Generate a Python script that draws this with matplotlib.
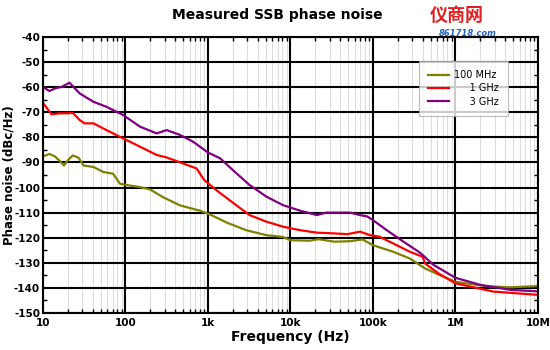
import numpy as np
import matplotlib.pyplot as plt
from matplotlib.ticker import FixedLocator, LogLocator, NullFormatter

plt.rcParams["axes.unicode_minus"] = False

# data
f_100m = [10, 12, 14, 16, 18, 20, 23, 27, 31, 41, 54, 71, 86, 113, 150, 200, 284, 458, 730, 800,
          1100, 1700, 2900, 5100, 8100, 10000, 17000, 22000, 34000, 53000, 75000, 100000, 176000,
          280000, 430000, 720000, 1e6, 2.3e6, 4.6e6, 1e7]
pn_100m = [-87.6, -86.6, -87.6, -89.4, -91.2, -89.2, -87.2, -88.1, -91.2, -91.8, -93.8, -94.5, -98.5,
           -99.2, -99.8, -100.8, -103.8, -107.1, -108.9, -109.2, -111, -114, -117, -119, -119.7, -121,
           -121.2, -120.6, -121.6, -121.4, -120.7, -123, -125.6, -128.3, -132.3, -135.6, -137.6,
           -139.3, -139.8, -139.3]

f_1g = [10, 12.7, 16, 20, 23, 28, 32, 41, 59, 98, 150, 239, 316, 500, 730, 900, 1260, 2000, 3200,
        5100, 8100, 13000, 21000, 34000, 49000, 70000, 92000, 120000, 176000, 280000, 400000,
        430000, 620000, 1e6, 2.9e6, 1e7]
pn_1g = [-66.2, -70.8, -70.4, -70.4, -70.2, -73.1, -74.4, -74.4, -77.1, -80.7, -83.7, -87, -88,
         -90.4, -92.4, -97, -101, -106, -111, -113.6, -115.6, -117, -118, -118.3, -118.6, -117.6,
         -119, -119.6, -122.3, -125.6, -127.6, -130.3, -134.2, -138.2, -141.5, -142.8]

f_3g = [10, 12, 14, 17, 21, 28, 41, 59, 94, 150, 239, 316, 458, 660, 1000, 1400, 2000, 3200, 5100,
        8100, 13000, 21000, 27000, 53000, 70000, 85000, 100000, 147000, 235000, 373000, 540000,
        1e6, 2e6, 4.6e6, 1e7]
pn_3g = [-59.9, -61.5, -60.5, -59.8, -58.2, -62.5, -65.8, -67.8, -71.1, -75.7, -78.4, -77.1, -79,
         -81.7, -86, -88.3, -93, -99, -103.6, -107, -109.2, -111, -110, -110, -111, -111.5, -113,
         -117, -121.6, -126, -130.8, -136, -138.8, -140.8, -141.4]

xticks = [10, 100, 1e3, 1e4, 1e5, 1e6, 1e7]
xlabels = ["10", "100", "1k", "10k", "100k", "1M", "10M"]

fig = plt.figure(figsize=(5.5, 3.5), dpi=100)
ax = fig.add_axes([0.078, 0.106, 0.9, 0.788])

ax.plot(f_100m, pn_100m, color="#808000", lw=1.6, label="100 MHz")
ax.plot(f_1g, pn_1g, color="#ff0000", lw=1.6, label="     1 GHz")
ax.plot(f_3g, pn_3g, color="#800080", lw=1.6, label="     3 GHz")

ax.set_xscale("log")
ax.set_xlim(10, 1e7)
ax.set_ylim(-150, -40)
ax.set_xticks(xticks)
ax.set_xticklabels(xlabels)
ax.xaxis.set_minor_locator(LogLocator(base=10, subs=np.arange(2, 10)))
ax.xaxis.set_minor_formatter(NullFormatter())
ax.set_yticks(np.arange(-150, -39, 10))
ax.yaxis.set_minor_locator(FixedLocator(np.arange(-145, -40, 10)))

ax.grid(which="major", color="black", lw=1.5)
ax.grid(which="minor", axis="x", color="#dddddd", lw=0.8)
ax.set_axisbelow(True)
ax.tick_params(which="both", direction="in", top=True, right=True, labelsize=7.5)
ax.tick_params(which="major", length=0, pad=2)
ax.tick_params(axis="x", which="major", pad=4)
ax.tick_params(which="minor", length=3, width=1)
for lab in ax.get_xticklabels() + ax.get_yticklabels():
    lab.set_fontweight("bold")
for s in ax.spines.values():
    s.set_linewidth(1.5)

ax.set_xlabel("Frequency (Hz)", fontsize=10, fontweight="bold", labelpad=1)
fig.text(0.016, 0.5, "Phase noise (dBc/Hz)", rotation=90, ha="center", va="center",
         fontsize=8.5, fontweight="bold")
fig.text(0.505, 0.958, "Measured SSB phase noise", ha="center", va="center",
         fontsize=10, fontweight="bold")

leg = ax.legend(loc="upper left", bbox_to_anchor=(0.75, 0.93), fontsize=7, frameon=True,
                fancybox=False, edgecolor="#aaaaaa", handlelength=2.2, borderpad=0.9,
                labelspacing=0.35, handletextpad=0.5)
leg.get_frame().set_linewidth(0.8)

# watermark
fig.text(0.83, 0.955, "仪商网", color="#e02020", fontsize=13, fontweight="bold",
         family=["Noto Sans CJK SC", "DejaVu Sans"], ha="center", va="center")
fig.text(0.85, 0.905, "861718.com", color="#2060c0", fontsize=6, fontweight="bold",
         style="italic", ha="center", va="center")

fig.savefig("out.png", dpi=100)
